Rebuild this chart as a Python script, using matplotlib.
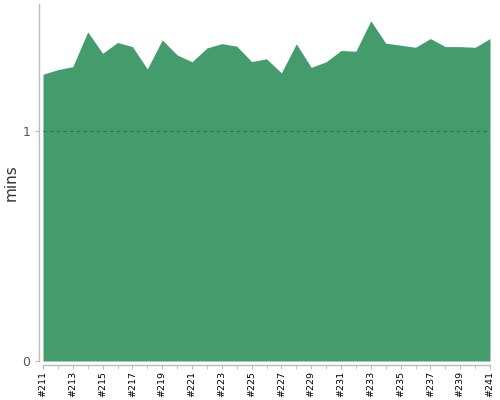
import numpy as np
import matplotlib.pyplot as plt

# build numbers #211 .. #241
builds = list(range(211, 242))
mins = [1.245, 1.265, 1.278, 1.429, 1.336, 1.383, 1.365, 1.268, 1.394, 1.329,
        1.299, 1.359, 1.378, 1.367, 1.300, 1.312, 1.251, 1.377, 1.275, 1.299,
        1.348, 1.345, 1.477, 1.380, 1.371, 1.362, 1.400, 1.365, 1.365, 1.362,
        1.400]
yticks = [0, 1]

fill_color = '#449c6c'
axis_color = '#bbbbbb'

fig = plt.figure(figsize=(5, 4), dpi=100)
ax = fig.add_axes([0.086, 0.0975, 0.894, 0.8925])

ax.fill_between(builds, 0, mins, color=fill_color, linewidth=0, zorder=1)
ax.axhline(1, color='#2e6e4a', linestyle=(0, (3, 3)), linewidth=0.8, zorder=2)

ax.set_xlim(211, 241)
ax.set_ylim(0, 1.55)

# spines first: moving them resets the ticks
for side in ['top', 'right']:
    ax.spines[side].set_visible(False)
ax.spines['bottom'].set_position(('outward', 3))
ax.spines['left'].set_position(('outward', 3))
ax.spines['bottom'].set_bounds(211, 241)
ax.spines['left'].set_bounds(0, 1.55)
for side in ['bottom', 'left']:
    ax.spines[side].set_color(axis_color)
    ax.spines[side].set_linewidth(1)

ax.set_xticks(builds[::2])
ax.set_xticklabels(['#%d' % b for b in builds[::2]])
ax.set_xticks(builds, minor=True)
ax.set_yticks(yticks)
ax.set_yticklabels([str(v) for v in yticks])

ax.tick_params(axis='x', which='both', length=3, color=axis_color, pad=1,
               labelrotation=90, labelsize=6.8)
ax.tick_params(axis='y', length=3, color=axis_color, pad=3,
               labelsize=9, labelcolor='#555555')

ax.set_ylabel('mins', fontsize=11, color='#333333')
ax.yaxis.set_label_coords(-0.054, 0.5)

plt.savefig('out.png', dpi=100)
plt.close()
